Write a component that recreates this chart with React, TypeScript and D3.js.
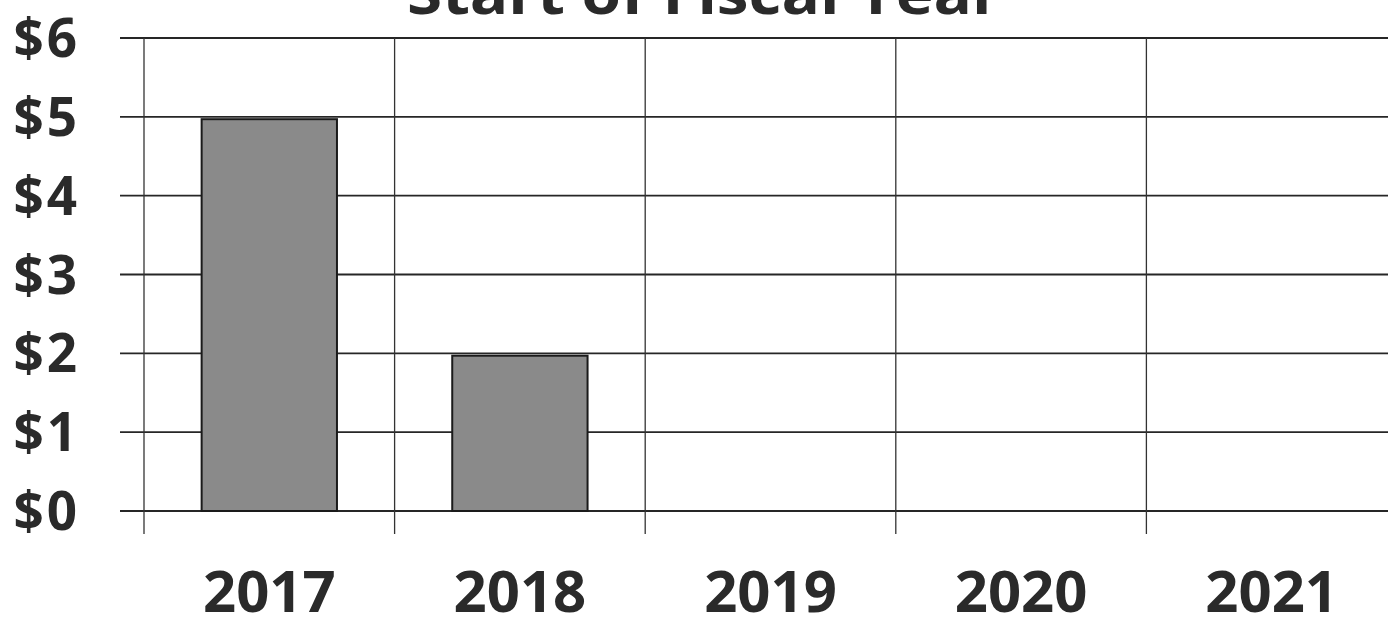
import React from "react";
import * as d3 from "d3";

const categories = ["2017", "2018", "2019", "2020", "2021"];
const values = [4.97, 1.97, 0, 0, 0];
const yTicks = [0, 1, 2, 3, 4, 5, 6];
const title = "Start of Fiscal Year";

const W = 1388;
const H = 628;

export default function App() {
  const x = d3.scaleBand<string>().domain(categories).range([144, 1397]).paddingInner(0).paddingOuter(0);
  const y = d3.scaleLinear().domain([0, 6]).range([511, 38]);
  const barFrac = 0.54;
  const bw = x.bandwidth() * barFrac;
  const fmt = (d: number) => `$${d}`;
  const boundaries = categories.map((c) => x(c) as number);

  return (
    <svg width={W} height={H} style={{ position: "absolute", left: 0, top: 0, background: "#fff" }}>
      <rect x={0} y={0} width={W} height={H} fill="#fff" />
      <text
        x={704}
        y={14}
        textAnchor="middle"
        fontFamily="'Open Sans', sans-serif"
        fontWeight={700}
        fontSize={56}
        fill="#2a2a2a"
        textLength={594}
        lengthAdjust="spacingAndGlyphs"
      >
        {title}
      </text>
      {yTicks.map((t) => (
        <line key={"h" + t} x1={120} x2={W} y1={y(t)} y2={y(t)} stroke="#262626" strokeWidth={1.8} />
      ))}
      {boundaries.map((b, i) => (
        <line key={"v" + i} x1={b} x2={b} y1={y(6)} y2={534} stroke="#333" strokeWidth={1.3} />
      ))}
      {categories.map((c, i) =>
        values[i] > 0 ? (
          <rect
            key={"b" + c}
            x={(x(c) as number) + (x.bandwidth() - bw) / 2}
            y={y(values[i])}
            width={bw}
            height={y(0) - y(values[i])}
            fill="#8a8a8a"
            stroke="#1a1a1a"
            strokeWidth={2}
          />
        ) : null
      )}
      {yTicks.map((t) => (
        <text
          key={"yl" + t}
          x={80}
          y={y(t)}
          dy="0.36em"
          textAnchor="end"
          fontFamily="'Open Sans', sans-serif"
          fontWeight={700}
          fontSize={53}
          letterSpacing={3}
          fill="#2a2a2a"
        >
          {fmt(t)}
        </text>
      ))}
      {categories.map((c) => (
        <text
          key={"xl" + c}
          x={(x(c) as number) + x.bandwidth() / 2}
          y={612}
          textAnchor="middle"
          fontFamily="'Open Sans', sans-serif"
          fontWeight={700}
          fontSize={58}
          fill="#2a2a2a"
        >
          {c}
        </text>
      ))}
    </svg>
  );
}
